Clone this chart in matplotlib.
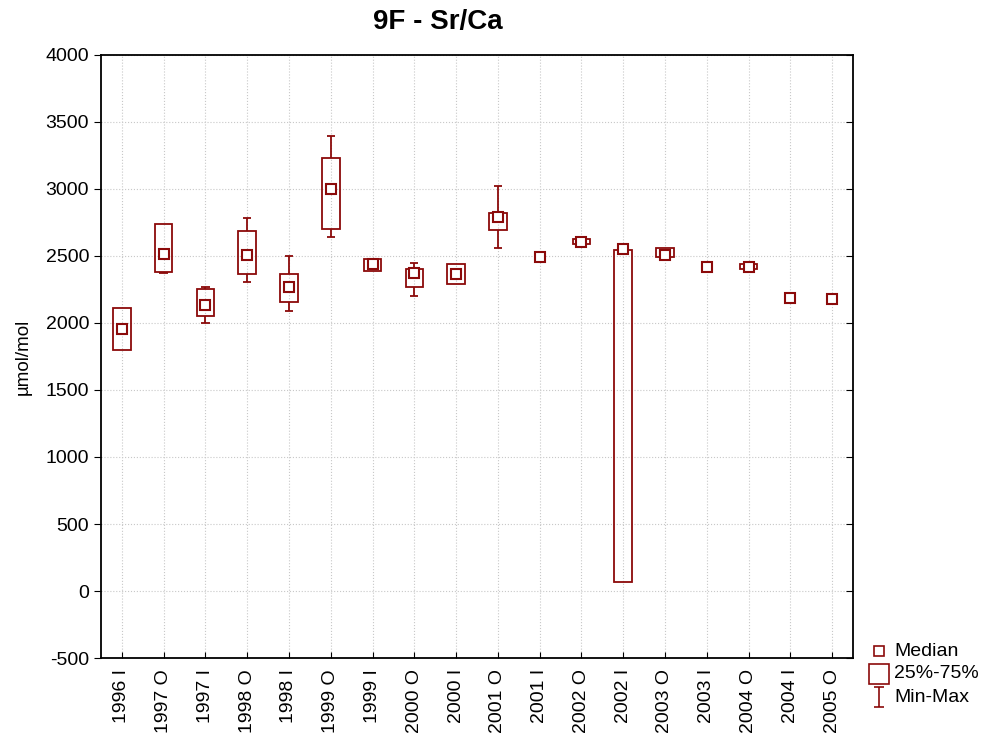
import numpy as np
import matplotlib.pyplot as plt
from matplotlib.lines import Line2D
from matplotlib.path import Path

plt.rcParams['font.family'] = ['Liberation Sans', 'DejaVu Sans']
plt.rcParams['axes.unicode_minus'] = False

labels = ["1996 I", "1997 O", "1997 I", "1998 O", "1998 I", "1999 O", "1999 I",
          "2000 O", "2000 I", "2001 O", "2001 I", "2002 O", "2002 I", "2003 O",
          "2003 I", "2004 O", "2004 I", "2005 O"]
medians = [1955, 2517, 2132, 2507, 2266, 2997, 2440, 2371, 2364, 2793, 2496,
           2607, 2550, 2505, 2416, 2418, 2184, 2181]
q1 = [1799, 2381, 2055, 2368, 2157, 2699, 2388, 2269, 2289, 2694, 2496,
      2590, 65, 2495, 2416, 2401, 2184, 2181]
q3 = [2114, 2741, 2254, 2684, 2363, 3234, 2475, 2405, 2438, 2818, 2496,
      2624, 2545, 2557, 2416, 2438, 2184, 2181]
mins = [1799, 2371, 2002, 2308, 2090, 2640, 2388, 2201, 2289, 2560, 2496,
        2590, 65, 2495, 2416, 2401, 2184, 2181]
maxs = [2114, 2741, 2271, 2786, 2497, 3398, 2475, 2445, 2438, 3022, 2496,
        2624, 2545, 2557, 2416, 2438, 2184, 2181]

c = '#8b0a0a'
x = np.arange(len(labels))
medians, q1, q3, mins, maxs = map(np.array, (medians, q1, q3, mins, maxs))

fig = plt.figure(figsize=(9.94, 7.42), dpi=100)
ax = fig.add_axes([0.1016, 0.1132, 0.7565, 0.8127])

# boxes (skip the ones with no spread)
hasbox = q3 > q1
ax.bar(x[hasbox], (q3 - q1)[hasbox], bottom=q1[hasbox], width=0.42, fill=False,
       edgecolor=c, linewidth=1.3, zorder=3)
# whiskers + caps (only where whisker longer than box)
top = maxs > q3
bot = mins < q1
ax.vlines(x[top], q3[top], maxs[top], color=c, lw=1.3, zorder=3)
ax.vlines(x[bot], mins[bot], q1[bot], color=c, lw=1.3, zorder=3)
ax.hlines(maxs[top], x[top] - 0.1, x[top] + 0.1, color=c, lw=1.3, zorder=3)
ax.hlines(mins[bot], x[bot] - 0.1, x[bot] + 0.1, color=c, lw=1.3, zorder=3)
# medians
ax.plot(x, medians, 's', ms=7.5, mfc='white', mec=c, mew=1.5, ls='none', zorder=4)

ax.set_xlim(-0.5, len(labels) - 0.5)
ax.set_ylim(-500, 4000)
ax.set_yticks(np.arange(-500, 4001, 500))
ax.set_xticks(x)
ax.set_xticklabels(labels, rotation=90, fontsize=14)
ax.tick_params(axis='y', labelsize=14, direction='out', length=5)
ax.tick_params(axis='y', which='major', right=True)
ax.tick_params(axis='x', direction='in', length=4, pad=8)
for t in ax.yaxis.get_major_ticks():
    t.tick2line.set_marker(0)  # right-side ticks pointing inward
    t.tick2line.set_markersize(5)
ax.grid(True, color='#c8c8c8', linestyle=':', linewidth=0.8)
ax.set_axisbelow(True)
for s in ax.spines.values():
    s.set_linewidth(1.3)

ax.set_ylabel('µmol/mol', fontsize=13.5, labelpad=10)
fig.text(0.44, 1 - 22 / 742, '9F - Sr/Ca', fontsize=20, fontweight='bold',
         ha='center', va='center')

# legend drawn by hand at lower right
ipath = Path([(-0.5, -1), (0.5, -1), (0, -1), (0, 1), (-0.5, 1), (0.5, 1)],
             [Path.MOVETO, Path.LINETO, Path.MOVETO, Path.LINETO, Path.MOVETO, Path.LINETO])
leg_names = ['Median', '25%-75%', 'Min-Max']
leg_y = [651, 674, 697]
leg_mk = [('s', 7), ('s', 15), (ipath, 15)]
for name, yp, (mk, ms) in zip(leg_names, leg_y, leg_mk):
    yf = 1 - yp / 742
    fig.add_artist(Line2D([879 / 994], [yf], transform=fig.transFigure, marker=mk,
                          ms=ms, mfc='white', mec=c, mew=1.2, ls='none'))
    fig.text(894 / 994, yf, name, fontsize=14, va='center', ha='left')

fig.savefig('out.png', dpi=100)
